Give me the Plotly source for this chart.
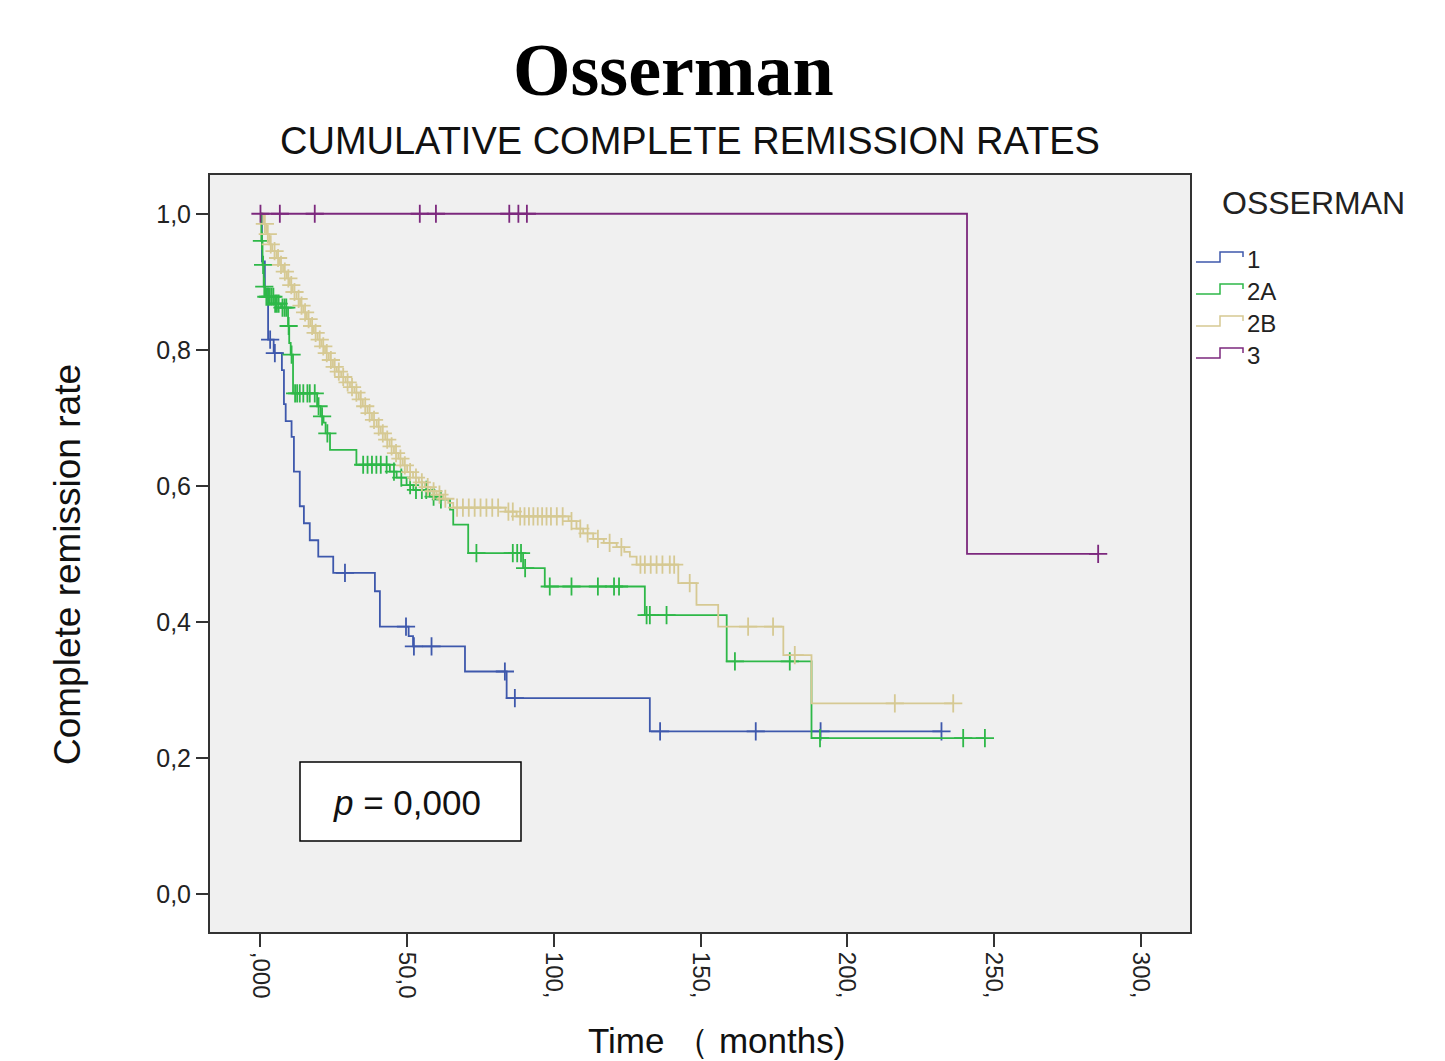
import numpy as np
import plotly.graph_objects as go

# ---------------- data ----------------
groups = ["1", "2A", "2B", "3"]
colors = ["#3E58AC", "#2EB848", "#D6C993", "#7C287D"]

g1_time = [0, 0.5, 1.5, 2.6, 4.5, 7.3, 8.0, 8.6, 10.6, 11.4, 13.4, 14.8, 16.8, 19.7, 24.8,
           39.0, 40.7, 50.5, 52.0, 69.7, 83.9, 132.7]
g1_rate = [1.0, 0.93, 0.89, 0.815, 0.795, 0.77, 0.72, 0.695, 0.672, 0.621, 0.570, 0.545, 0.52,
           0.496, 0.472, 0.445, 0.393, 0.379, 0.364, 0.327, 0.288, 0.239]
g1_censor = [3.3, 4.9, 28.8, 49.6, 52.3, 58.3, 83.3, 86.7, 136.2, 168.8, 190.9, 232.1]

g2a_time = [0, 0.3, 0.7, 1.1, 1.6, 4.5, 7.0, 9.4, 9.8, 10.3, 11.1, 19.3, 20.5, 21.5, 22.2, 23.7,
            32.7, 44.1, 46.4, 49.8, 52.1, 57.7, 60.0, 64.6, 65.7, 70.8, 89.5, 96.9, 131.0, 158.9,
            187.8]
g2a_rate = [1.0, 0.96, 0.925, 0.893, 0.878, 0.868, 0.862, 0.835, 0.81, 0.793, 0.736, 0.717,
            0.702, 0.693, 0.677, 0.653, 0.631, 0.621, 0.612, 0.601, 0.594, 0.584, 0.58, 0.565,
            0.543, 0.501, 0.479, 0.452, 0.410, 0.342, 0.229]
g2a_censor = [0.5, 0.9, 1.3, 2.0, 2.6, 3.2, 3.8, 4.4, 5.0, 5.6, 6.2, 7.5, 8.2, 8.8, 9.6, 10.6,
              11.8, 12.5, 13.4, 14.6, 16.0, 16.8, 18.5, 19.8, 21.0, 22.8, 35.0, 36.5, 38.0,
              39.5, 41.0, 43.0, 45.5, 48.0, 51.0, 53.0, 55.0, 56.5, 59.0, 61.5, 73.6, 86.0,
              87.5, 88.8, 90.2, 98.6, 106.0, 115.0, 120.5, 122.2, 131.6, 132.7, 138.4, 161.7,
              180.4, 190.7, 239.5, 246.9]

g2b_time = [0, 1.0, 2.0, 3.0, 4.0, 5.5, 6.5, 7.7, 9.0, 10.0, 11.0, 12.3, 13.5, 14.6, 15.8, 17.0,
            18.2, 19.5, 20.8, 22.0, 23.3, 24.7, 26.0, 27.5, 29.0, 30.5, 32.0, 33.5, 34.9, 36.5,
            38.0, 39.6, 41.0, 42.5, 44.0, 45.5, 47.0, 48.5, 50.0, 52.0, 54.0, 56.0, 58.0, 60.0,
            62.3, 64.0, 65.7, 83.5, 87.3, 105.0, 107.7, 110.0, 113.4, 117.0, 121.4, 124.0,
            125.9, 128.2, 142.4, 148.6, 156.0, 178.2, 187.8]
g2b_rate = [1.0, 0.985, 0.97, 0.955, 0.945, 0.935, 0.925, 0.915, 0.905, 0.895, 0.885, 0.875,
            0.865, 0.855, 0.845, 0.835, 0.825, 0.815, 0.805, 0.795, 0.785, 0.775, 0.768, 0.76,
            0.752, 0.745, 0.737, 0.727, 0.717, 0.707, 0.697, 0.687, 0.677, 0.668, 0.658, 0.648,
            0.64, 0.63, 0.62, 0.612, 0.605, 0.598, 0.592, 0.587, 0.581, 0.575, 0.568, 0.562,
            0.555, 0.548, 0.537, 0.53, 0.522, 0.516, 0.51, 0.503, 0.496, 0.484, 0.457, 0.425,
            0.393, 0.351, 0.280]
g2b_censor = [1.5, 2.5, 3.5, 4.8, 6.0, 7.0, 8.3, 9.5, 10.5, 11.6, 13.0, 14.0, 15.2, 16.4, 17.6,
              18.8, 20.2, 21.4, 22.6, 24.0, 25.3, 26.7, 28.2, 29.7, 31.2, 32.7, 34.2, 35.7,
              37.2, 38.7, 40.3, 41.7, 43.2, 44.7, 46.2, 47.7, 49.2, 51.0, 53.0, 55.0, 57.0,
              59.0, 61.0, 63.0, 67.0, 69.0, 71.0, 73.0, 75.0, 77.0, 79.0, 81.0, 84.5, 86.0,
              88.5, 90.0, 91.5, 93.0, 94.5, 96.0, 97.5, 99.0, 101.0, 103.0, 106.0, 109.0,
              111.5, 115.0, 119.0, 123.0, 129.5, 131.0, 133.0, 135.0, 137.0, 139.5, 141.0,
              146.3, 166.2, 174.7, 182.1, 216.2, 236.1]

g3_time = [0, 240.8]
g3_rate = [1.0, 0.5]
g3_censor = [0.0, 6.6, 18.5, 54.3, 59.8, 84.8, 87.9, 90.8, 285.5]

x_tickvals = [0, 50, 100, 150, 200, 250, 300]
x_ticktext = [",000", "50,0", "100,", "150,", "200,", "250,", "300,"]
y_tickvals = [0.0, 0.2, 0.4, 0.6, 0.8, 1.0]
y_ticktext = ["0,0", "0,2", "0,4", "0,6", "0,8", "1,0"]

series = [
    (g1_time, g1_rate, g1_censor),
    (g2a_time, g2a_rate, g2a_censor),
    (g2b_time, g2b_rate, g2b_censor),
    (g3_time, g3_rate, g3_censor),
]

# ---------------- layout geometry ----------------
W, H = 1445, 1061
L, R, T, B = 210, 1190, 175, 932
SANS = "Liberation Sans, Arial, sans-serif"


def px(x):
    return (x - L) / (R - L)


def py(y):
    return (B - y) / (B - T)


fig = go.Figure()

for name, color, (t, s, c) in zip(groups, colors, series):
    t = np.asarray(t, float)
    s = np.asarray(s, float)
    c = np.asarray(c, float)
    end = max(t.max(), c.max())
    xs = np.append(t, end)
    ys = np.append(s, s[-1])
    fig.add_trace(go.Scatter(x=xs, y=ys, mode="lines", line=dict(color=color, width=1.8, shape="hv"),
                             name=name, showlegend=False, hoverinfo="skip"))
    idx = np.searchsorted(t, c, side="right") - 1
    fig.add_trace(go.Scatter(x=c, y=s[idx], mode="markers",
                             marker=dict(symbol="cross-thin-open", size=13, color=color,
                                         line=dict(color=color, width=1.8)),
                             showlegend=False, hoverinfo="skip"))

shapes = []
annotations = []

# manual legend with step glyphs
annotations.append(dict(x=px(1220), y=py(203), xref="paper", yref="paper", text="OSSERMAN",
                        showarrow=False, xanchor="left", yanchor="middle",
                        font=dict(family=SANS, size=32, color="#222")))
for i, (name, color) in enumerate(zip(groups, colors)):
    yc = 258 + 32 * i
    x0, x1, x2 = 1196, 1220, 1243
    ylo, yhi = yc + 4, yc - 6
    path = "M {} {} L {} {} L {} {} L {} {} L {} {}".format(
        px(x0), py(ylo), px(x1), py(ylo), px(x1), py(yhi), px(x2), py(yhi), px(x2), py(yc - 1))
    shapes.append(dict(type="path", xref="paper", yref="paper", path=path,
                       line=dict(color=color, width=1.5)))
    annotations.append(dict(x=px(1245), y=py(yc + 1), xref="paper", yref="paper", text=name,
                            showarrow=False, xanchor="left", yanchor="middle",
                            font=dict(family=SANS, size=24, color="#222")))

# p-value box
shapes.append(dict(type="rect", xref="paper", yref="paper", x0=px(300), x1=px(521),
                   y0=py(841), y1=py(762), fillcolor="white", line=dict(color="black", width=1.5),
                   layer="above"))
annotations.append(dict(x=px(407), y=py(802), xref="paper", yref="paper",
                        text="<i>p</i> = 0,000", showarrow=False, xanchor="center", yanchor="middle",
                        font=dict(family=SANS, size=35, color="#111")))

# titles
annotations.append(dict(x=px(673), y=py(70), xref="paper", yref="paper", text="<b>Osserman</b>",
                        showarrow=False, xanchor="center", yanchor="middle",
                        font=dict(family="Liberation Serif, Times New Roman, serif", size=74,
                                  color="black")))
annotations.append(dict(x=px(690), y=py(141), xref="paper", yref="paper",
                        text="CUMULATIVE COMPLETE REMISSION RATES", showarrow=False,
                        xanchor="center", yanchor="middle",
                        font=dict(family=SANS, size=38, color="#111")))
annotations.append(dict(x=px(67), y=py(565), xref="paper", yref="paper",
                        text="Complete remission rate", showarrow=False, textangle=-90,
                        xanchor="center", yanchor="middle",
                        font=dict(family=SANS, size=37, color="#111")))
annotations.append(dict(x=px(716), y=py(1040), xref="paper", yref="paper",
                        text="Time （ months)", showarrow=False, xanchor="center", yanchor="middle",
                        font=dict(family=SANS, size=35, color="#111")))

fig.update_layout(
    width=W, height=H,
    margin=dict(l=L, r=W - R, t=T, b=H - B),
    paper_bgcolor="white", plot_bgcolor="#F0F0F0",
    showlegend=False,
    shapes=shapes, annotations=annotations,
)
fig.update_xaxes(range=[-17.2, 316.8], tickvals=x_tickvals, ticktext=x_ticktext, tickangle=90,
                 ticks="outside", ticklen=13, tickwidth=1.5, tickcolor="#333",
                 showgrid=False, zeroline=False, showline=True, mirror=True,
                 linecolor="#333", linewidth=2,
                 tickfont=dict(family=SANS, size=24, color="#222"))
fig.update_yaxes(range=[-0.056, 1.057], tickvals=y_tickvals, ticktext=y_ticktext,
                 ticks="outside", ticklen=12, tickwidth=1.5, tickcolor="#333",
                 showgrid=False, zeroline=False, showline=True, mirror=True,
                 linecolor="#333", linewidth=2,
                 tickfont=dict(family=SANS, size=25, color="#222"))

fig.write_html("out.html")
